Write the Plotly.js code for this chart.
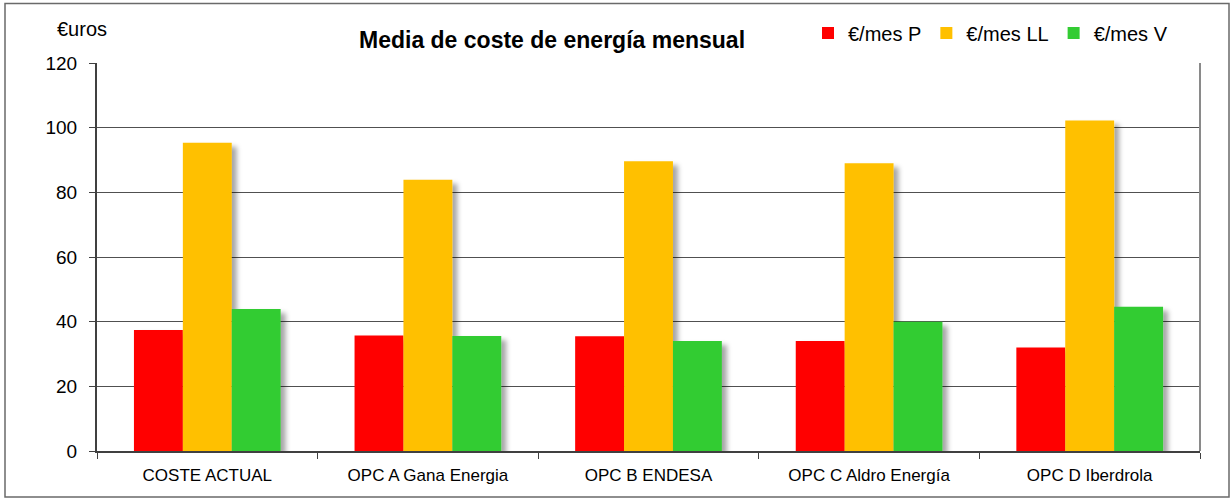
<!DOCTYPE html>
<html>
<head>
<meta charset="utf-8">
<script src="https://cdn.plot.ly/plotly-3.0.1.min.js"></script>
<style>
  html, body { margin: 0; padding: 0; background: #fff; }
  #chart { width: 1232px; height: 499px; }
</style>
</head>
<body>
<div id="chart"></div>
<script>
const categories = ["COSTE ACTUAL", "OPC A Gana Energia", "OPC B ENDESA", "OPC C Aldro Energía", "OPC D Iberdrola"];
const seriesNames = ["€/mes P", "€/mes LL", "€/mes V"];
const valuesP = [37.4, 35.7, 35.5, 34.0, 32.0];
const valuesLL = [95.3, 83.9, 89.6, 89.0, 102.2];
const valuesV = [43.9, 35.6, 34.0, 40.0, 44.6];
const yTicks = [0, 20, 40, 60, 80, 100, 120];
const chartTitle = "Media de coste de energía mensual";
const unitLabel = "€uros";

const colors = ["#FF0000", "#FFC000", "#33CC33"];
const FONT = "Liberation Sans, Arial, sans-serif";

const allValues = [valuesP, valuesLL, valuesV];
const traces = allValues.map((vals, i) => ({
  type: "bar",
  name: seriesNames[i],
  x: categories,
  y: vals,
  marker: { color: colors[i], line: { width: 0 } },
  hoverinfo: "x+y+name"
}));

const W = 1232, H = 499;
const M = { l: 97, r: 32, t: 63, b: 48 };
const pw = W - M.l - M.r, ph = H - M.t - M.b;
const px = v => (v - M.l) / pw;
const py = v => (H - M.b - v) / ph;

const layout = {
  width: W, height: H,
  margin: M,
  paper_bgcolor: "#ffffff",
  plot_bgcolor: "#ffffff",
  font: { family: FONT, color: "#000000", size: 17 },
  barmode: "group",
  bargap: 0.335,
  bargroupgap: 0,
  showlegend: true,
  legend: {
    orientation: "h",
    x: px(808), xanchor: "left",
    y: py(33), yanchor: "middle",
    font: { family: FONT, size: 20, color: "#000" },
    bgcolor: "rgba(0,0,0,0)",
    borderwidth: 0,
    traceorder: "normal"
  },
  xaxis: {
    type: "category",
    showline: true, linecolor: "#404040", linewidth: 2,
    ticks: "outside", tickson: "boundaries", ticklen: 6, tickcolor: "#404040", tickwidth: 1,
    showgrid: false,
    tickfont: { family: FONT, size: 17, color: "#000" },
    ticklabelstandoff: 8,
    fixedrange: true
  },
  yaxis: {
    range: [0, 120],
    tickvals: yTicks,
    ticktext: yTicks.map(String),
    showline: true, linecolor: "#404040", linewidth: 2,
    ticks: "outside", ticklen: 6, tickcolor: "#404040", tickwidth: 1,
    showgrid: true, gridcolor: "#505050", gridwidth: 1,
    zeroline: false,
    tickfont: { family: FONT, size: 19, color: "#000" },
    ticklabelstandoff: 8,
    fixedrange: true
  },
  annotations: [
    {
      xref: "paper", yref: "paper",
      x: px(552), y: py(40), xanchor: "center", yanchor: "middle",
      text: "<b>" + chartTitle + "</b>", showarrow: false,
      font: { family: FONT, size: 23, color: "#000" }
    },
    {
      xref: "paper", yref: "paper",
      x: px(55), y: py(29), xanchor: "left", yanchor: "middle",
      text: unitLabel, showarrow: false,
      font: { family: FONT, size: 20, color: "#000" }
    }
  ],
  shapes: [
    {
      type: "rect", xref: "paper", yref: "paper",
      x0: px(5), x1: px(1229), y0: py(497), y1: py(3.5),
      line: { color: "#6a6a6a", width: 1.5 }, fillcolor: "rgba(0,0,0,0)", layer: "above"
    },
    {
      type: "line", xref: "paper", yref: "paper",
      x0: 1, x1: 1, y0: 0, y1: 1,
      line: { color: "#8a8a8a", width: 2 }, layer: "above"
    }
  ]
};

Plotly.newPlot("chart", traces, layout, { displayModeBar: false, staticPlot: true }).then(gd => {
  const ns = "http://www.w3.org/2000/svg";
  const svg = gd.querySelector("svg.main-svg");
  let defs = svg.querySelector("defs");
  if (!defs) { defs = document.createElementNS(ns, "defs"); svg.insertBefore(defs, svg.firstChild); }
  const f = document.createElementNS(ns, "filter");
  f.setAttribute("id", "barshadow");
  f.setAttribute("x", "-40%"); f.setAttribute("y", "-10%");
  f.setAttribute("width", "200%"); f.setAttribute("height", "130%");
  const ds = document.createElementNS(ns, "feDropShadow");
  ds.setAttribute("dx", "5"); ds.setAttribute("dy", "4");
  ds.setAttribute("stdDeviation", "2.5");
  ds.setAttribute("flood-color", "#000"); ds.setAttribute("flood-opacity", "0.35");
  f.appendChild(ds);
  defs.appendChild(f);
  gd.querySelectorAll(".barlayer .trace .point path").forEach(p => p.setAttribute("filter", "url(#barshadow)"));
});
</script>
</body>
</html>
